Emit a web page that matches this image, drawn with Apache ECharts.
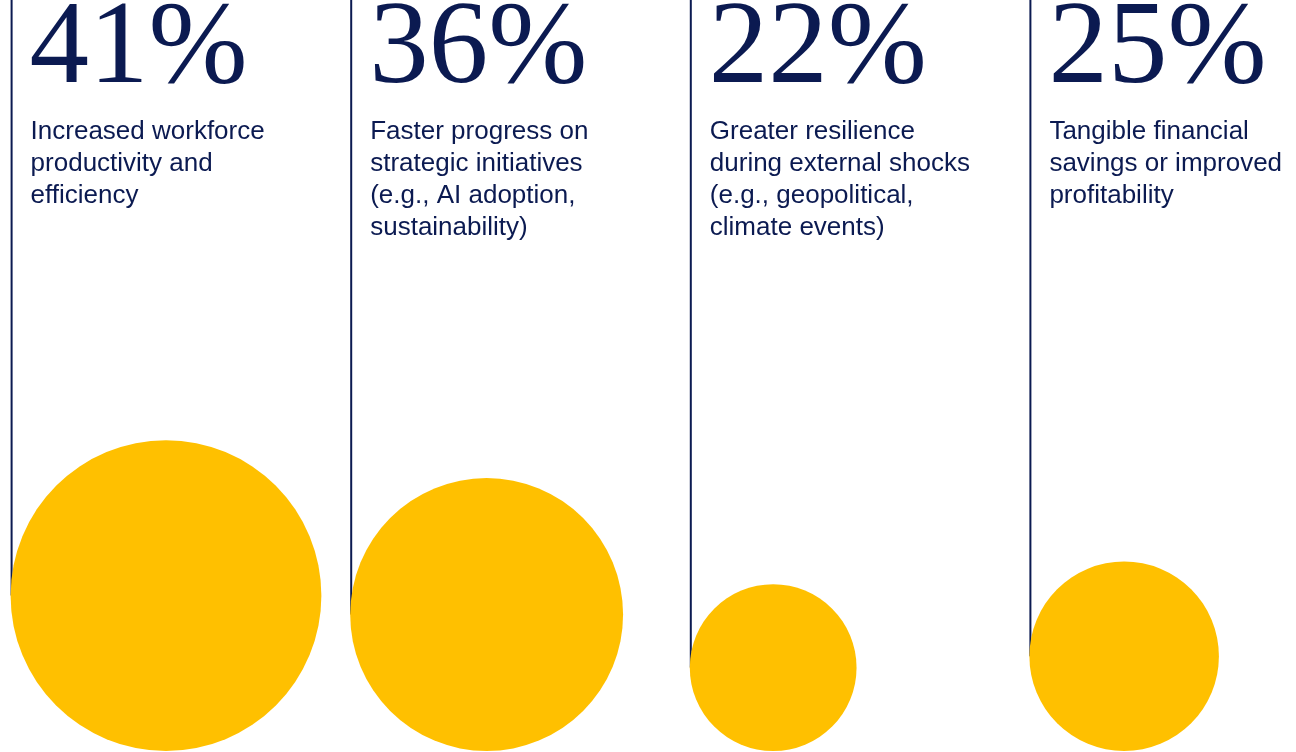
<!DOCTYPE html>
<html>
<head>
<meta charset="utf-8">
<script src="https://cdn.jsdelivr.net/npm/echarts@6/dist/echarts.min.js"></script>
<style>
html,body{margin:0;padding:0;background:#fff;}
#chart{width:1296px;height:752px;}
</style>
</head>
<body>
<div id="chart"></div>
<script>
// ---- data ----
const categories = ['Workforce productivity', 'Strategic initiatives', 'Resilience', 'Financial savings'];
const values = [41, 36, 22, 25];
const descriptions = [
  'Increased workforce\nproductivity and\nefficiency',
  'Faster progress on\nstrategic initiatives\n(e.g., AI adoption,\nsustainability)',
  'Greater resilience\nduring external shocks\n(e.g., geopolitical,\nclimate events)',
  'Tangible financial\nsavings or improved\nprofitability'
];

// ---- style ----
const NAVY = '#0b1a51';
const YELLOW = '#FFC000';

const chart = echarts.init(document.getElementById('chart'));
chart.setOption({
  backgroundColor: '#ffffff',
  animation: false,
  grid: { left: 10.6, top: -7, width: 1358.4, height: 758, outerBoundsMode: 'none', containLabel: false },
  xAxis: { type: 'category', data: categories, show: false, boundaryGap: true },
  yAxis: { type: 'value', min: 0, max: 100, show: false },
  series: [{
    type: 'custom',
    clip: false,
    data: values.map((v, i) => [i, v]),
    renderItem: function (params, api) {
      const i = api.value(0);
      const v = api.value(1);
      const base = api.coord([i, 0]);
      const bw = api.size([1, 0])[0];
      const left = base[0] - bw / 2;
      const d = api.size([0, v])[1];
      const r = d / 2;
      const cy = base[1] - r;
      const idx = params.dataIndex;
      return {
        type: 'group',
        children: [
          { type: 'line', shape: { x1: left + 1, y1: 0, x2: left + 1, y2: cy },
            style: { stroke: NAVY, lineWidth: 2 } },
          { type: 'circle', shape: { cx: left + r, cy: cy, r: r },
            style: { fill: YELLOW } },
          { type: 'text', style: {
              x: left + 19, y: 51, text: v + '%',
              fontFamily: 'Liberation Serif', fontSize: 119,
              fill: NAVY, align: 'left', verticalAlign: 'middle' } },
          { type: 'text', style: {
              x: left + 20, y: 116, text: descriptions[idx],
              fontFamily: 'Liberation Sans', fontSize: 26, lineHeight: 32,
              fill: NAVY, align: 'left', verticalAlign: 'top' } }
        ]
      };
    }
  }]
});
</script>
</body>
</html>
